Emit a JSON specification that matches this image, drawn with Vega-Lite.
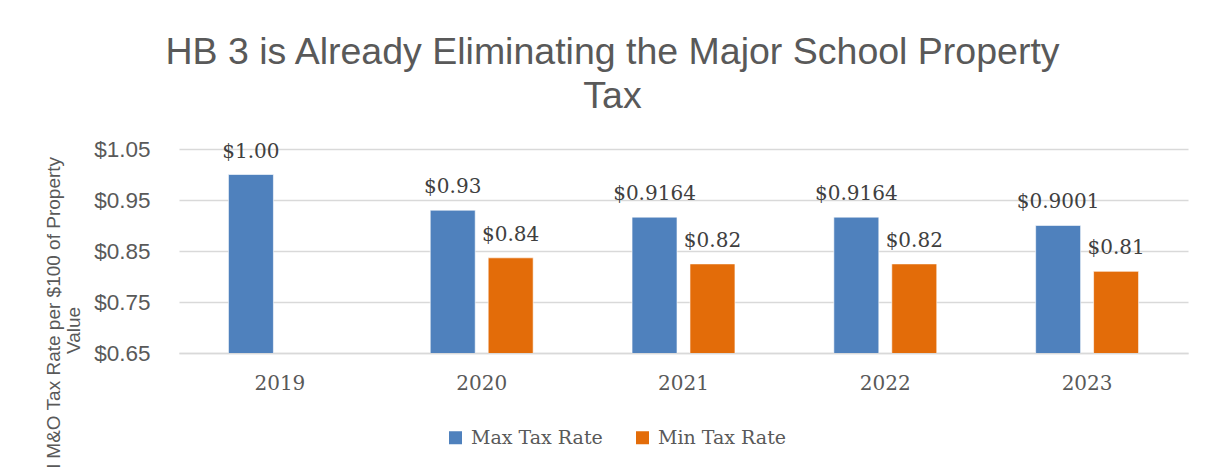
{
  "$schema": "https://vega.github.io/schema/vega-lite/v6.json",
  "width": 1009,
  "height": 204,
  "autosize": {"type": "none"},
  "padding": {"left": 179, "top": 149, "right": 19, "bottom": 114},
  "background": "white",
  "title": {
    "text": ["HB 3 is Already Eliminating the Major School Property", "Tax"],
    "font": "Liberation Sans",
    "fontSize": 37.5,
    "fontWeight": "normal",
    "color": "#595959",
    "anchor": "middle",
    "frame": "group",
    "dx": -71,
    "lineHeight": 44,
    "offset": 23
  },
  "data": {
    "values": [
      {"year": "2019", "series": "Max Tax Rate", "rate": 1.0, "label": "$1.00"},
      {"year": "2020", "series": "Max Tax Rate", "rate": 0.93, "label": "$0.93"},
      {"year": "2020", "series": "Min Tax Rate", "rate": 0.8366, "label": "$0.84"},
      {"year": "2021", "series": "Max Tax Rate", "rate": 0.9164, "label": "$0.9164"},
      {"year": "2021", "series": "Min Tax Rate", "rate": 0.8247, "label": "$0.82"},
      {"year": "2022", "series": "Max Tax Rate", "rate": 0.9164, "label": "$0.9164"},
      {"year": "2022", "series": "Min Tax Rate", "rate": 0.8247, "label": "$0.82"},
      {"year": "2023", "series": "Max Tax Rate", "rate": 0.9001, "label": "$0.9001"},
      {"year": "2023", "series": "Min Tax Rate", "rate": 0.8101, "label": "$0.81"}
    ]
  },
  "encoding": {
    "x": {
      "field": "year",
      "type": "nominal",
      "scale": {"paddingInner": 0.49, "paddingOuter": 0.245},
      "axis": {
        "title": null,
        "labelAngle": 0,
        "labelFont": "DejaVu Serif",
        "labelFontSize": 20,
        "labelColor": "#595959",
        "labelPadding": 20,
        "ticks": false,
        "domain": true,
        "domainColor": "#d9d9d9",
        "domainWidth": 1.5,
        "grid": false
      }
    },
    "xOffset": {
      "field": "series",
      "type": "nominal",
      "sort": ["Max Tax Rate", "Min Tax Rate"],
      "scale": {"paddingInner": 0.224, "paddingOuter": 0}
    },
    "y": {
      "field": "rate",
      "type": "quantitative",
      "scale": {"domain": [0.65, 1.05], "zero": false, "nice": false},
      "axis": {
        "title": ["Total M&O Tax Rate per $100 of Property", "Value"],
        "titleFont": "Liberation Sans",
        "titleFontSize": 19,
        "titleFontWeight": "normal",
        "titleColor": "#595959",
        "titleAngle": 270,
        "titleX": -126,
        "titleY": 181,
        "titleAlign": "center",
        "titleBaseline": "middle",
        "titleLineHeight": 20,
        "values": [0.65, 0.75, 0.85, 0.95, 1.05],
        "format": "$.2f",
        "labelFont": "Liberation Sans",
        "labelFontSize": 22.5,
        "labelColor": "#595959",
        "labelPadding": 29,
        "ticks": false,
        "domain": false,
        "grid": true,
        "gridColor": "#d9d9d9",
        "gridWidth": 1.5
      }
    }
  },
  "layer": [
    {
      "mark": {"type": "bar", "stroke": "#ffffff", "strokeWidth": 0.6, "clip": true},
      "encoding": {
        "color": {
          "field": "series",
          "type": "nominal",
          "scale": {"domain": ["Max Tax Rate", "Min Tax Rate"], "range": ["#4f81bd", "#e36c09"]},
          "legend": {
            "title": null,
            "orient": "none",
            "legendX": 267,
            "legendY": 279,
            "direction": "horizontal",
            "symbolType": "square",
            "symbolSize": 169,
            "symbolStrokeWidth": 0,
            "labelFont": "DejaVu Serif",
            "labelFontSize": 19,
            "labelColor": "#595959",
            "labelOffset": 6,
            "columnPadding": 30
          }
        }
      }
    },
    {
      "mark": {
        "type": "text",
        "font": "DejaVu Serif",
        "fontSize": 20,
        "color": "#404040",
        "baseline": "alphabetic",
        "dy": -17
      },
      "encoding": {"text": {"field": "label"}}
    }
  ],
  "config": {"view": {"stroke": null}}
}
